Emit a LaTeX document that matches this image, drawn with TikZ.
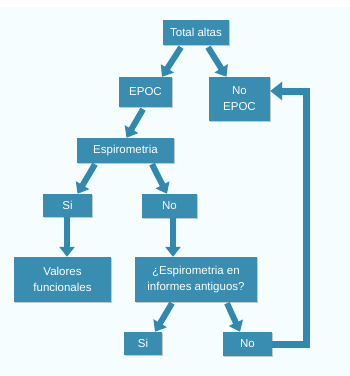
\documentclass[tikz,border=0pt]{standalone}
\usepackage{fontspec}
\setmainfont{Liberation Sans}
\usetikzlibrary{arrows.meta,shadows}
\definecolor{boxc}{RGB}{56,141,176}
\definecolor{arrc}{RGB}{50,137,174}
\definecolor{bgc}{RGB}{245,253,255}
\tikzset{
  box/.style={fill=boxc, text=white, inner sep=0pt, align=center,
    font=\fontsize{11.5}{16}\selectfont,
    drop shadow={opacity=0.35, shadow xshift=1pt, shadow yshift=-1pt, fill=black!60}},
  arr/.style={draw=arrc, line width=6pt, -{Triangle[width=15pt,length=10pt]}},
  feed/.style={draw=arrc, line width=7pt, line join=miter, -{Triangle[width=18pt,length=12pt]}}
}
\begin{document}
\begin{tikzpicture}[x=1pt,y=-1pt]
\useasboundingbox (0,0) rectangle (350,376);
\fill[white] (0,0) rectangle (350,376);
\fill[bgc] (0,7) rectangle (350,376);

\node[box, minimum width=66pt, minimum height=25pt] (tot) at (196,32.5) {Total altas};
\node[box, minimum width=53pt, minimum height=30pt] (epoc) at (145.5,92) {EPOC};
\node[box, minimum width=61pt, minimum height=44pt] (noepoc) at (239.5,99) {No\\EPOC};
\node[box, minimum width=97pt, minimum height=25pt] (esp) at (125.5,150.5) {Espirometria};
\node[box, minimum width=49pt, minimum height=23pt] (si1) at (67.5,205.5) {Si};
\node[box, minimum width=55pt, minimum height=24pt] (no1) at (169.5,206) {No};
\node[box, minimum width=97pt, minimum height=45pt] (val) at (62.5,279.5) {Valores\\funcionales};
\node[box, minimum width=122pt, minimum height=45pt] (esp2) at (196,279.5) {¿Espirometria en\\informes antiguos?};
\node[box, minimum width=38pt, minimum height=23pt] (si2) at (143,343.5) {Si};
\node[box, minimum width=49pt, minimum height=24pt] (no2) at (247.5,344) {No};

\coordinate (fb1) at (306,344);
\coordinate (fb2) at (306,91);

\draw[arr] ([xshift=-15pt,yshift=-2pt]tot.south) -- ([xshift=16.5pt]epoc.north);
\draw[arr] ([xshift=12pt,yshift=-2pt]tot.south) -- ([xshift=-13pt]noepoc.north);
\draw[arr] ([xshift=-2.5pt,yshift=-2pt]epoc.south) -- ([xshift=1pt]esp.north);
\draw[arr] ([xshift=-30.5pt,yshift=-1pt]esp.south) -- ([xshift=10pt]si1.north);
\draw[arr] ([xshift=26.5pt,yshift=-1pt]esp.south) -- ([xshift=-2.5pt]no1.north);
\draw[arr] ([xshift=-0.5pt]si1.south) -- ([xshift=4.5pt]val.north);
\draw[arr] ([xshift=3.5pt]no1.south) -- ([xshift=-23pt]esp2.north);
\draw[arr] ([xshift=-24pt,yshift=-1pt]esp2.south) -- ([xshift=12pt]si2.north);
\draw[arr] ([xshift=31pt,yshift=-1pt]esp2.south) -- ([xshift=-7.5pt]no2.north);
\draw[feed] (no2.east) -- (fb1) -- (fb2) -- ([yshift=8pt]noepoc.east);
\end{tikzpicture}
\end{document}
